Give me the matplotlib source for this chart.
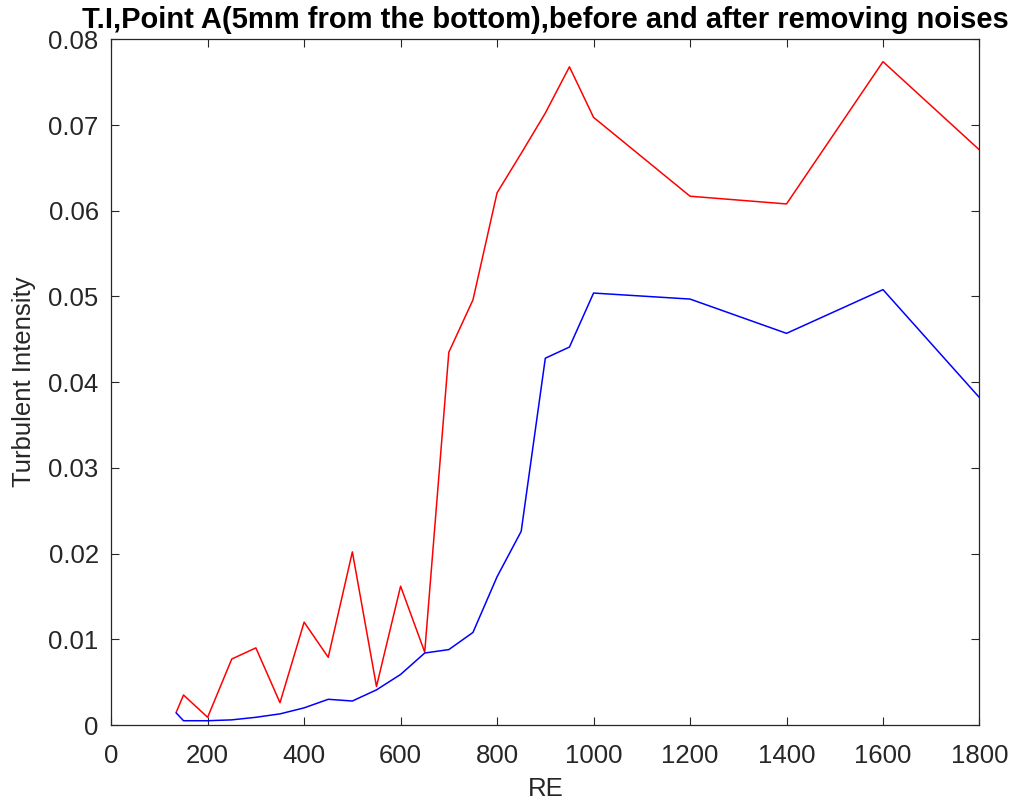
import matplotlib as mpl
import matplotlib.pyplot as plt

# Reynolds number samples and turbulent intensity at point A
RE = [135, 150, 200, 250, 300, 350, 400, 450, 500, 550, 600, 650, 700, 750,
      800, 850, 900, 950, 1000, 1200, 1400, 1600, 1800]
TI_RAW = [0.0015, 0.0035, 0.0009, 0.0077, 0.0090, 0.0026, 0.0120, 0.0079,
          0.0202, 0.0045, 0.0162, 0.0085, 0.0435, 0.0496, 0.0621, 0.0667,
          0.0714, 0.0768, 0.0709, 0.0617, 0.0608, 0.0774, 0.0671]
TI_FILTERED = [0.0014, 0.0005, 0.0005, 0.0006, 0.0009, 0.0013, 0.0020, 0.0030,
               0.0028, 0.0041, 0.0059, 0.0084, 0.0088, 0.0108, 0.0173, 0.0226,
               0.0428, 0.0441, 0.0504, 0.0497, 0.0457, 0.0508, 0.0382]

X_TICKS = [0, 200, 400, 600, 800, 1000, 1200, 1400, 1600, 1800]
Y_TICKS = [0, 0.01, 0.02, 0.03, 0.04, 0.05, 0.06, 0.07, 0.08]
Y_TICK_LABELS = ["0", "0.01", "0.02", "0.03", "0.04", "0.05", "0.06", "0.07", "0.08"]

TEXT = "#262626"

mpl.rcParams.update({
    "font.family": ["Liberation Sans", "DejaVu Sans"],
    "font.size": 18.5,
    "axes.edgecolor": TEXT,
    "axes.linewidth": 0.9,
    "xtick.color": TEXT,
    "ytick.color": TEXT,
    "xtick.direction": "in",
    "ytick.direction": "in",
    "xtick.top": True,
    "ytick.right": True,
    "xtick.major.size": 5.8,
    "ytick.major.size": 5.8,
    "xtick.major.width": 0.8,
    "ytick.major.width": 0.8,
})

fig = plt.figure(figsize=(10.17, 8.07), dpi=100)
ax = fig.add_axes([0.1093, 0.1016, 0.8538, 0.8496])

ax.plot(RE, TI_RAW, color="#FF0000", linewidth=1.1)
ax.plot(RE, TI_FILTERED, color="#0000FF", linewidth=1.1)

ax.set_xlim(0, 1800)
ax.set_ylim(0, 0.08)
ax.set_xticks(X_TICKS)
ax.set_yticks(Y_TICKS, Y_TICK_LABELS)
ax.tick_params(axis="x", pad=14)
ax.tick_params(axis="y", pad=9)
ax.set_xlabel("RE", color=TEXT, labelpad=6)
ax.set_ylabel("Turbulent Intensity", color=TEXT, labelpad=9)

# title centred over the axes, sitting just above the top frame
fig.text(545 / 1017, 1 - 28 / 807,
         "T.I,Point A(5mm from the bottom),before and after removing noises",
         ha="center", va="baseline", fontsize=21, fontweight="bold", color="black")

fig.savefig("out.png", dpi=100)
